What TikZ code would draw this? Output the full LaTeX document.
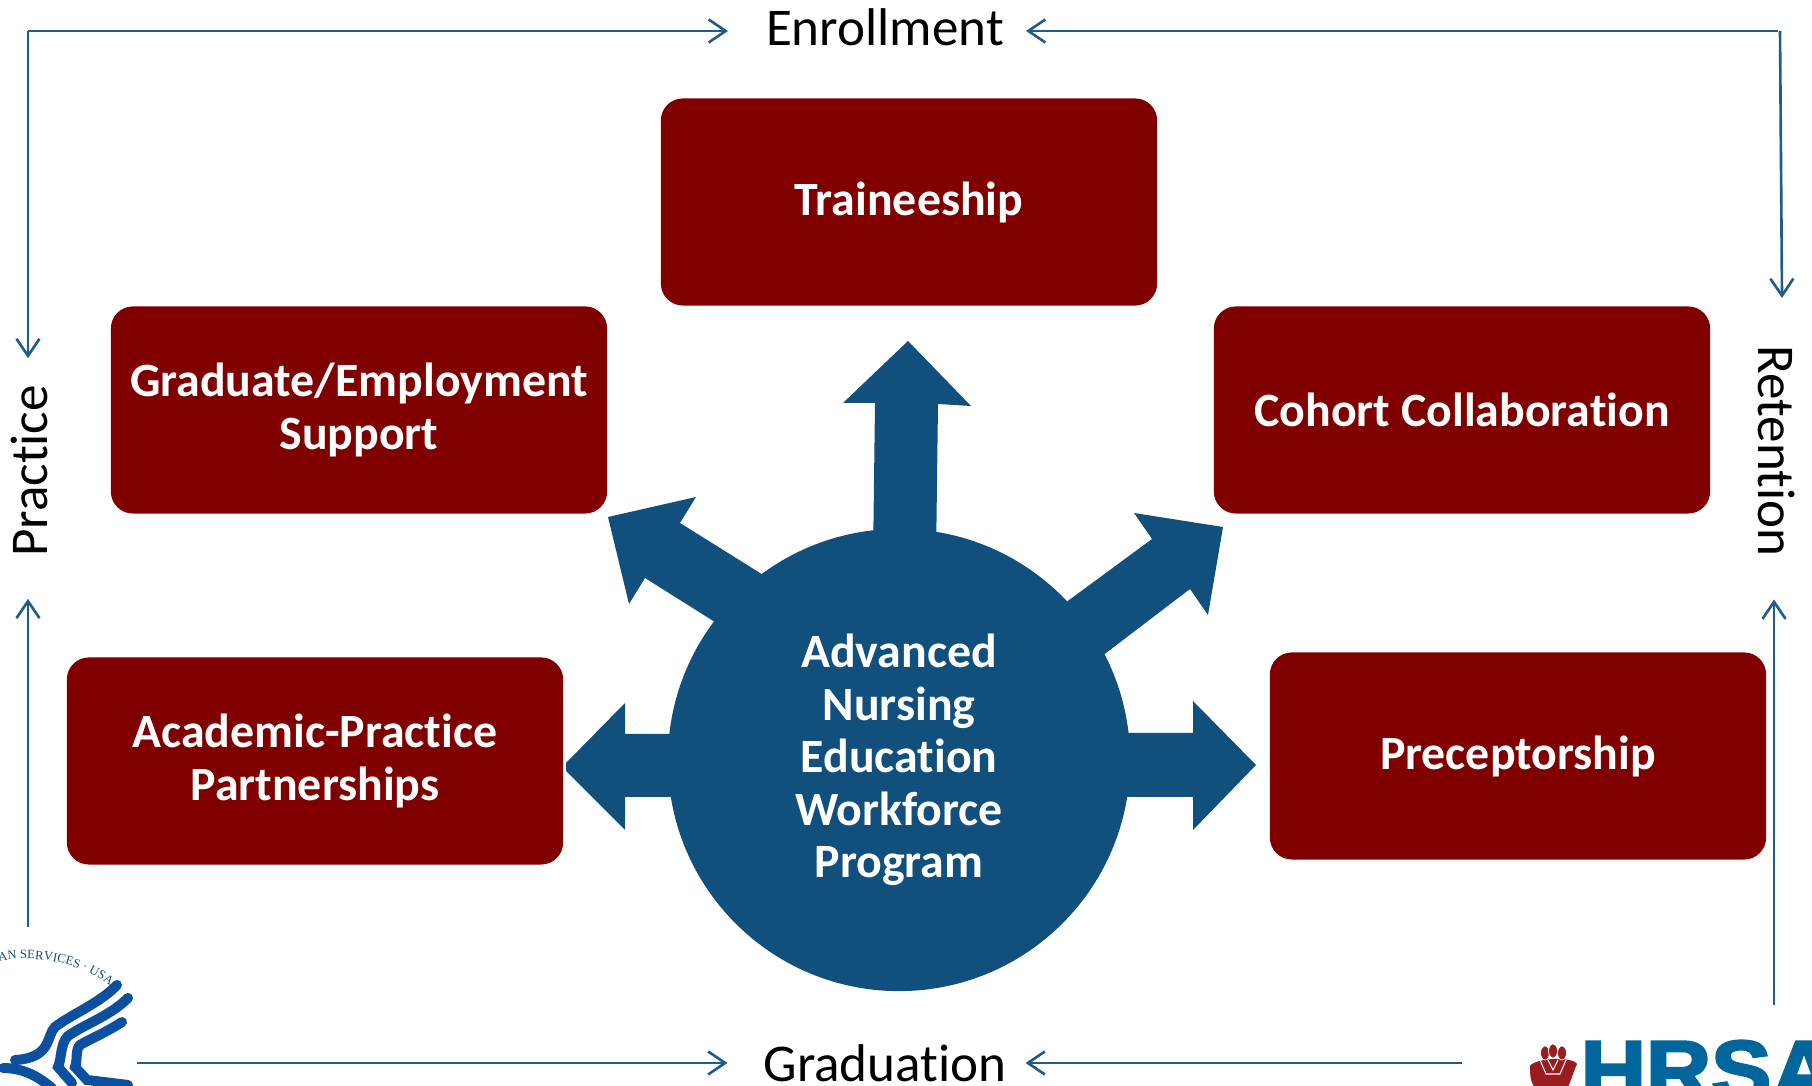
\documentclass[tikz,border=0pt]{standalone}
\usepackage{fontspec}
\setmainfont[Ligatures=NoCommon]{Carlito}
\newfontfamily\sealfont{Liberation Serif}
\newfontfamily\hrsafont[FakeBold=3]{Liberation Sans Bold}
\usetikzlibrary{arrows.meta,decorations.text}
\definecolor{boxred}{HTML}{800000}
\definecolor{hubblue}{HTML}{114F7C}
\definecolor{linkblue}{HTML}{1F5C8A}
\definecolor{sealblue}{HTML}{0B4F9E}
\definecolor{hrsablue}{HTML}{00669C}
\definecolor{handred}{HTML}{9B1C1F}
\tikzset{
  programbox/.style={fill=boxred, rounded corners=0.22cm, minimum width=4.96cm, minimum height=2.07cm, inner sep=0, outer sep=0, text=white, align=center, font=\fontsize{13.6}{14.9}\selectfont\bfseries},
  stage/.style={inner sep=0, outer sep=0, font=\fontsize{15.1}{17}\selectfont},
  link/.style={draw=linkblue, line width=0.75pt, -{Straight Barb[length=0.17cm,width=0.23cm]}},
  spoke/.style={fill=hubblue},
  stripe/.style={draw=sealblue, line width=0.1cm, line cap=round}
}
\begin{document}
\begin{tikzpicture}[x=0.01cm, y=-0.01cm]
\useasboundingbox (0, 0) rectangle (1812, 1086);
\clip (0, 0) rectangle (1812, 1086);
\fill[spoke] (873, 560) -- (875, 403) -- (843, 403) -- (908, 341) -- (971, 406) -- (938, 404) -- (936, 560) -- cycle;
\fill[spoke] (800, 598) -- (680, 523) -- (696, 497) -- (608, 517) -- (629, 604) -- (645, 578) -- (753, 646) -- cycle;
\fill[spoke] (1027, 631) -- (1152, 539) -- (1134, 513) -- (1223, 527) -- (1208, 615) -- (1190, 589) -- (1064, 685) -- cycle;
\fill[spoke] (690, 734) -- (625, 734) -- (625, 703) -- (566, 763) -- (566, 771) -- (625, 830) -- (625, 797) -- (690, 797) -- cycle;
\fill[spoke] (1110, 733) -- (1193, 733) -- (1193, 701) -- (1256, 765) -- (1193, 830) -- (1193, 797) -- (1110, 797) -- cycle;
\node[circle, fill=hubblue, minimum size=4.62cm, inner sep=0, text=white, align=center, font=\fontsize{13.6}{14.9}\selectfont\bfseries] (hub) at (899, 760) {Advanced\\Nursing\\Education\\Workforce\\Program};
\node[programbox] (traineeship) at (909, 202) {Traineeship};
\node[programbox] (support) at (359, 410) {Graduate/Employment\\Support};
\node[programbox] (cohort) at (1462, 410) {Cohort Collaboration};
\node[programbox] (partnerships) at (315, 761) {Academic-Practice\\Partnerships};
\node[programbox] (preceptorship) at (1518, 756) {Preceptorship};
\node[stage] (enrollment) at (885, 27) {Enrollment};
\node[stage] (graduation) at (885, 1063) {Graduation};
\node[stage, rotate=90] (practice) at (29, 471) {Practice};
\node[stage, rotate=-90] (retention) at (1777, 451) {Retention};
\coordinate (topleft) at (28, 31);
\coordinate (topright) at (1778, 31);
\coordinate (rightdown) at (1780, 31);
\coordinate (rightend) at (1782, 298);
\coordinate (rightup) at (1774, 1005);
\coordinate (leftup) at (28, 927);
\coordinate (botleft) at (137, 1063);
\coordinate (botright) at (1462, 1063);
\draw[link, shorten >=0.38cm] (topleft) -- (enrollment.west |- topleft);
\draw[link, shorten >=0.22cm] (topright) -- (enrollment.east |- topright);
\draw[link, shorten >=0.27cm] (topleft) -- (topleft |- practice.east);
\draw[link, shorten >=0.42cm] (leftup) -- (leftup |- practice.west);
\draw[link] (rightdown) -- (rightend);
\draw[link, shorten >=0.43cm] (rightup) -- (rightup |- retention.east);
\draw[link, shorten >=0.36cm] (botleft) -- (graduation.west |- botleft);
\draw[link, shorten >=0.19cm] (botright) -- (graduation.east |- botright);
\path[decorate, decoration={text along path, text align={right}, text={|\sealfont\fontsize{3.6}{4}\selectfont\color{hubblue}|HUMAN SERVICES · USA}}] (-60, 985) .. controls (-10, 952) and (60, 948) .. (110, 986);
\draw[stripe] (117, 985) .. controls (100, 1003) and (72, 1014) .. (55, 1027) .. controls (46, 1036) and (52, 1058) .. (15, 1060);
\draw[stripe] (128, 998) .. controls (110, 1016) and (85, 1024) .. (68, 1036) .. controls (60, 1044) and (62, 1058) .. (58, 1067) -- (72, 1083);
\draw[stripe] (122, 1022) .. controls (105, 1033) and (92, 1038) .. (80, 1045) .. controls (75, 1050) and (78, 1060) .. (75, 1067) -- (87, 1080) -- (128, 1085);
\draw[stripe] (3, 1068) .. controls (25, 1068) and (40, 1078) .. (52, 1088);
\fill[handred] (1530, 1066) .. controls (1535, 1058) and (1572, 1056) .. (1577, 1064) .. controls (1572, 1075) and (1570, 1085) .. (1566, 1090) -- (1538, 1090) .. controls (1530, 1085) and (1530, 1075) .. (1530, 1066) -- cycle;
\foreach \headx/\heady in {1545/1053, 1553/1051, 1562/1053}
  \filldraw[handred, draw=white, line width=0.2pt] (\headx, \heady) ellipse (4.5 and 7);
\draw[white, line width=0.3pt] (1540, 1060) -- (1546, 1074) -- (1560, 1074) -- (1566, 1060);
\draw[white, line width=0.3pt] (1548, 1060) -- (1553, 1070) -- (1558, 1060);
\node[anchor=north west, inner sep=0, text=hrsablue, xscale=1.07, font=\hrsafont\fontsize{24}{24}\selectfont] (hrsa) at (1580, 1040) {HRSA};
\end{tikzpicture}
\end{document}
